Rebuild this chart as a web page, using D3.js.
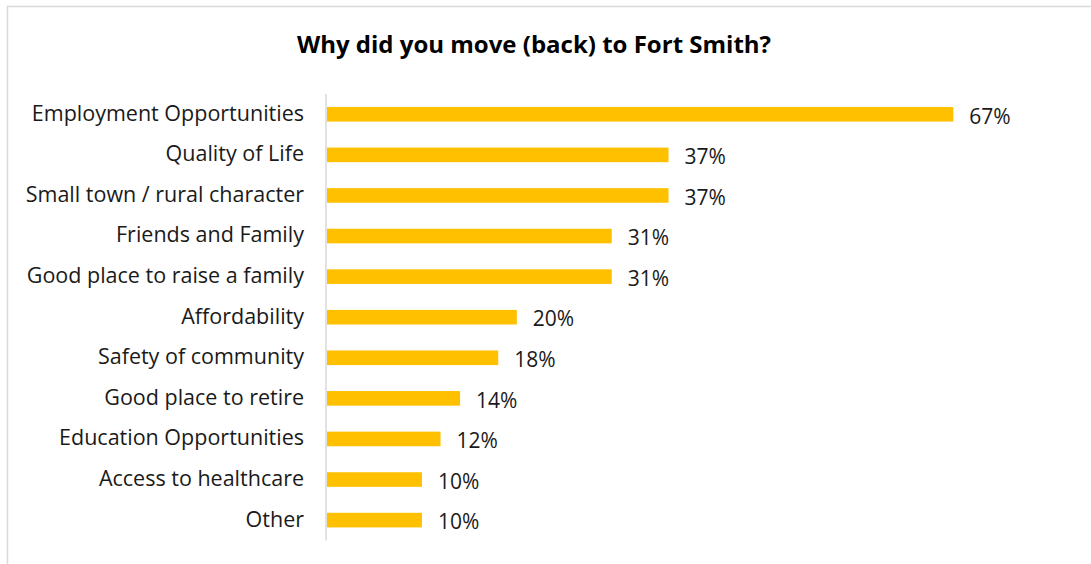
<!DOCTYPE html>
<html>
<head>
<meta charset="utf-8">
<script src="https://cdn.jsdelivr.net/npm/d3@7/dist/d3.min.js"></script>
<style>
html, body { margin: 0; padding: 0; background: #fff; }
svg { display: block; }
</style>
</head>
<body>
<script>
const title = "Why did you move (back) to Fort Smith?";
const categories = [
  "Employment Opportunities",
  "Quality of Life",
  "Small town / rural character",
  "Friends and Family",
  "Good place to raise a family",
  "Affordability",
  "Safety of community",
  "Good place to retire",
  "Education Opportunities",
  "Access to healthcare",
  "Other"
];
const values = [67.3, 36.7, 36.7, 30.6, 30.6, 20.4, 18.4, 14.3, 12.2, 10.2, 10.2];

const W = 1091, H = 564;
const svg = d3.select("body").append("svg").attr("width", W).attr("height", H);

svg.append("rect")
  .attr("x", 7.5).attr("y", 6.5).attr("width", W + 10).attr("height", H + 10)
  .attr("fill", "#fff").attr("stroke", "#d9d9d9").attr("stroke-width", 1.5);

svg.append("text")
  .attr("x", 534).attr("y", 53)
  .attr("text-anchor", "middle")
  .attr("font-family", "'Open Sans', sans-serif")
  .attr("font-weight", "bold")
  .attr("font-size", 24)
  .attr("fill", "#000")
  .text(title);

const x = d3.scaleLinear().domain([0, 70]).range([327, 327 + 70 * 9.306]);
const y = d3.scaleBand().domain(categories).range([94, 540.4]).paddingInner(0.64).paddingOuter(0.32);

const fontFamily = "'Open Sans', sans-serif";

svg.selectAll("rect.bar").data(values).join("rect")
  .attr("class", "bar")
  .attr("x", x(0))
  .attr("y", (d, i) => y(categories[i]))
  .attr("width", d => x(d) - x(0))
  .attr("height", y.bandwidth())
  .attr("fill", "#FFC000");

svg.selectAll("text.val").data(values).join("text")
  .attr("class", "val")
  .attr("x", d => x(d) + 16)
  .attr("y", (d, i) => y(categories[i]) + y.bandwidth() / 2)
  .attr("dy", "0.44em")
  .attr("font-family", fontFamily)
  .attr("font-size", 21)
  .attr("fill", "#1a1a1a")
  .text(d => Math.round(d) + "%");

const yAxis = d3.axisLeft(y).tickSize(0).tickPadding(22);
const g = svg.append("g").attr("transform", `translate(326,0)`).call(yAxis);
g.select(".domain").attr("stroke", "#d9d9d9").attr("stroke-width", 1.5).attr("d", "M0,94V540.4");
g.selectAll(".tick text")
  .attr("font-family", fontFamily)
  .attr("font-size", 21.5)
  .attr("fill", "#1a1a1a")
  .attr("dy", "0.3em");
</script>
</body>
</html>
